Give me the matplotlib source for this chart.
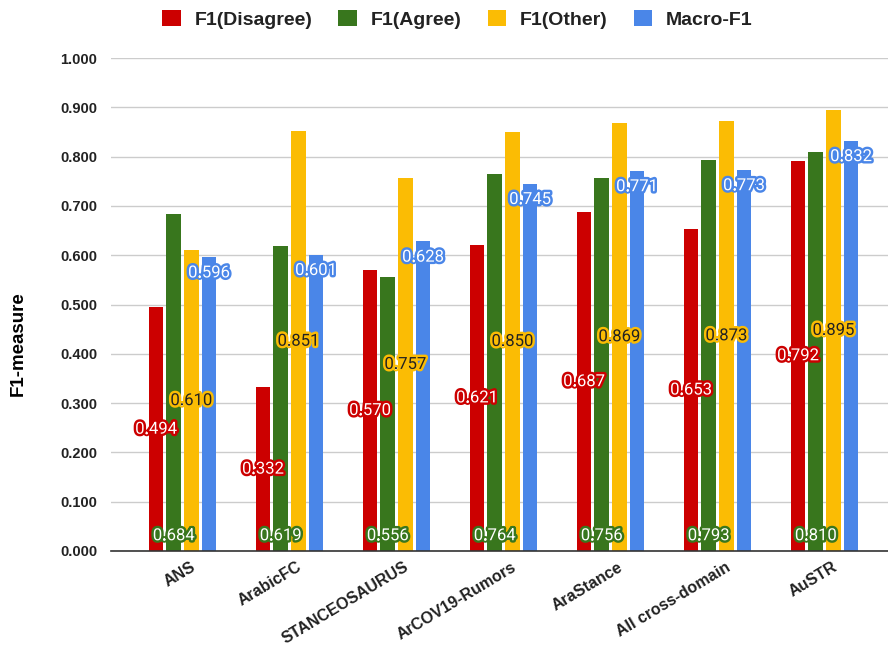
import matplotlib
matplotlib.use("Agg")
import matplotlib.pyplot as plt
import matplotlib.patheffects as pe
import numpy as np

plt.rcParams['font.family'] = ['Liberation Sans', 'DejaVu Sans']

# ── Data ──────────────────────────────────────────────────
datasets = ["ANS", "ArabicFC", "STANCEOSAURUS", "ArCOV19-Rumors",
            "AraStance", "All cross-domain", "AuSTR"]
f1_disagree = [0.494, 0.332, 0.570, 0.621, 0.687, 0.653, 0.792]
f1_agree = [0.684, 0.619, 0.556, 0.764, 0.756, 0.793, 0.810]
f1_other = [0.610, 0.851, 0.757, 0.850, 0.869, 0.873, 0.895]
macro_f1 = [0.596, 0.601, 0.628, 0.745, 0.771, 0.773, 0.832]
series_names = ["F1(Disagree)", "F1(Agree)", "F1(Other)", "Macro-F1"]
yticks = [0.0, 0.1, 0.2, 0.3, 0.4, 0.5, 0.6, 0.7, 0.8, 0.9, 1.0]

colors = ["#cc0000", "#38761d", "#fbbc04", "#4a86e8"]
# where each series puts its value label: centre, base, centre, end
label_pos = ["center", "base", "center", "end"]
label_text = ["white", "white", "#222222", "white"]

fig = plt.figure(figsize=(8.88, 6.5), dpi=100)
ax = fig.add_axes([111 / 888, 1 - 551 / 650, 777 / 888, (551 - 58) / 650])

x = np.arange(len(datasets))
slot = 0.165
bw = 0.135
series = [f1_disagree, f1_agree, f1_other, macro_f1]

for i, vals in enumerate(series):
    xs = x + (i - 1.5) * slot
    ax.bar(xs, vals, bw, color=colors[i], label=series_names[i], zorder=3)
    for xx, v in zip(xs, vals):
        if label_pos[i] == "center":
            yy = v / 2
        elif label_pos[i] == "base":
            yy = 0.031
        else:
            yy = v - 0.032
        ax.text(xx, yy, f"{v:.3f}", ha="center", va="center", fontsize=12,
                color=label_text[i], family=["Roboto", "DejaVu Sans"], zorder=5,
                path_effects=[pe.withStroke(linewidth=3.5, foreground=colors[i])])

ax.set_xlim(-0.668, 6.593)
ax.set_ylim(0, 1.0)
ax.set_yticks(yticks)
ax.set_yticklabels([f"{t:.3f}" for t in yticks], fontsize=10.5, fontweight="bold",
                   color="#222222")
ax.set_xticks(x + 0.07)
ax.set_xticklabels(datasets, rotation=31, ha="right", rotation_mode="anchor",
                   fontsize=11.5, fontweight="bold", color="#222222")
ax.tick_params(length=0, pad=10)
ax.tick_params(axis="x", pad=6)
ax.grid(axis="y", color="#cccccc", linewidth=1, zorder=0)
for s in ["top", "right", "left"]:
    ax.spines[s].set_visible(False)
ax.spines["bottom"].set_color("#333333")
ax.spines["bottom"].set_linewidth(1.2)
ax.spines["bottom"].set_zorder(4)

ax.set_ylabel("F1-measure", fontsize=13.5, fontweight="bold")
ax.yaxis.set_label_coords(-0.108, 0.42)

leg = fig.legend(loc="upper center", bbox_to_anchor=(0.515, 1.012), ncol=4,
                 frameon=False, handlelength=0.95, handleheight=0.95,
                 columnspacing=1.35, handletextpad=0.7,
                 prop={"weight": "bold", "size": 14})
for t in leg.get_texts():
    t.set_color("#222222")

fig.savefig("out.png", dpi=100)
